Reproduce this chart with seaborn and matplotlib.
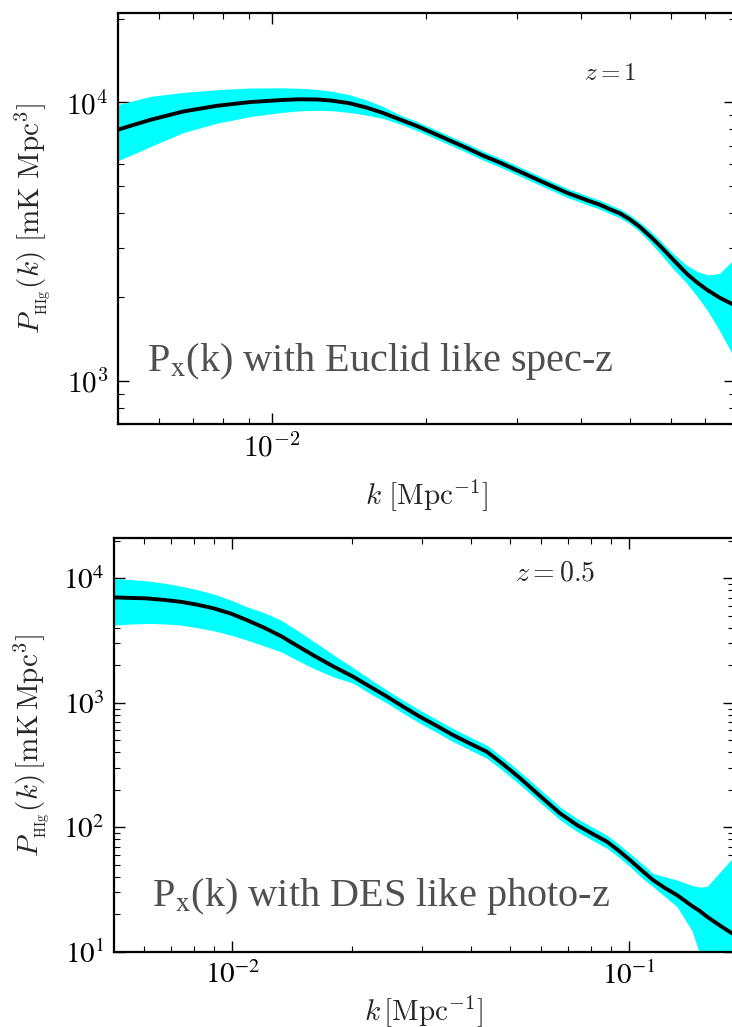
import matplotlib
matplotlib.use("Agg")
import matplotlib.pyplot as plt
import seaborn as sns
import pandas as pd
from matplotlib.ticker import LogLocator, NullFormatter

# --- z = 1 : HI x galaxy cross power, Euclid-like spectroscopic survey ---
k_spec = [0.004987, 0.005786, 0.006706, 0.007822, 0.009071, 0.01052, 0.01131, 0.01226,
          0.01311, 0.01415, 0.01528, 0.01642, 0.01772, 0.01913, 0.02057, 0.02220,
          0.02396, 0.02575, 0.02780, 0.03041, 0.03327, 0.03757, 0.04168, 0.04358,
          0.04558, 0.04768, 0.04988, 0.05217, 0.05457, 0.05717, 0.06058, 0.06452,
          0.06760, 0.07078, 0.07474, 0.07890, 0.08002]
p_spec = [7973, 8661, 9280, 9730, 10033, 10210, 10261, 10244,
          10142, 9934, 9585, 9181, 8699, 8240, 7773, 7307,
          6866, 6453, 6088, 5648, 5239, 4742, 4419, 4295,
          4139, 4001, 3807, 3578, 3320, 3055, 2731, 2424,
          2254, 2118, 1990, 1892, 1868]
p_spec_lo = [6163, 6939, 7795, 8428, 8902, 9219, 9327, 9373,
             9334, 9203, 9006, 8770, 8381, 7938, 7488, 7040,
             6615, 6217, 5865, 5441, 5047, 4568, 4257, 4138,
             3987, 3855, 3668, 3431, 3158, 2871, 2534, 2238,
             2008, 1788, 1514, 1262, 1201]
p_spec_hi = [9811, 10511, 10866, 11111, 11270, 11280, 11240, 11130,
             10956, 10661, 10201, 9689, 9030, 8553, 8068, 7585,
             7127, 6698, 6319, 5863, 5438, 4922, 4587, 4458,
             4296, 4153, 3952, 3720, 3475, 3198, 2871, 2598,
             2471, 2401, 2431, 2685, 2777]

# --- z = 0.5 : HI x galaxy cross power, DES-like photometric survey ---
k_phot = [0.005035, 0.005525, 0.006097, 0.006729, 0.007426, 0.008149, 0.008994, 0.009925,
          0.01089, 0.01202, 0.01327, 0.01455, 0.01606, 0.01804, 0.02014, 0.02223,
          0.02453, 0.02692, 0.02971, 0.03279, 0.03597, 0.03970, 0.04381, 0.04806,
          0.05305, 0.06062, 0.06690, 0.07385, 0.08054, 0.08787, 0.09365,
          0.1004, 0.1076, 0.1147, 0.1230, 0.1319, 0.1439, 0.1506, 0.1570,
          0.1693, 0.1815, 0.1835]
p_phot = [7035, 6970, 6906, 6718, 6485, 6157, 5741, 5214,
          4624, 4024, 3439, 2884, 2397, 1949, 1626, 1351,
          1123, 933, 773, 651, 551, 471, 404, 322,
          248.6, 170.1, 129.4, 104.2, 89.1, 76.5, 65.6,
          54.5, 44.9, 37.7, 32.5, 28.5, 23.3, 21.2, 19.1,
          16.2, 14.05, 13.8]
p_phot_lo = [4217, 4293, 4348, 4309, 4217, 4024, 3793, 3503,
             3194, 2873, 2573, 2206, 1885, 1611, 1441, 1187,
             996, 827, 685, 577, 488, 418, 358, 285,
             220, 151, 114.7, 92.4, 79.0, 67.8, 58.2,
             48.3, 39.2, 33.3, 27.7, 23.0, 14.7, 9.5, 6.0,
             3.0, 1.5, 1.3]
p_phot_hi = [10000, 9779, 9567, 9168, 8670, 8128, 7479, 6693,
             5913, 5312, 4624, 3842, 3107, 2420, 1920, 1552,
             1267, 1052, 872, 734, 622, 531, 456, 363,
             280, 192, 146, 117.5, 100.5, 86.3, 74.0,
             61.5, 51.0, 42.6, 40.0, 37.7, 34.0, 33.1, 33.4,
             43.7, 56.0, 58.5]

sns.set_style("ticks")
plt.rcParams["mathtext.fontset"] = "cm"
plt.rcParams["font.family"] = ["DejaVu Serif"]

fig = plt.figure(figsize=(7.32, 10.27), dpi=100)
ax1 = fig.add_axes([118 / 732, 1 - 424 / 1027, (735 - 118) / 732, (424 - 12.7) / 1027])
ax2 = fig.add_axes([114 / 732, 1 - 951.7 / 1027, (733.5 - 114) / 732, (951.7 - 538.3) / 1027])

BAND = "#00ffff"
TEXT_GREY = "#505050"


def draw_panel(ax, k, p, lo, hi):
    df = pd.DataFrame({"k": k, "P": p})
    ax.fill_between(k, lo, hi, color=BAND, lw=0, zorder=1)
    sns.lineplot(data=df, x="k", y="P", ax=ax, color="black", lw=2.8, zorder=3,
                 estimator=None, sort=False)
    ax.set_xscale("log")
    ax.set_yscale("log")
    for side in ax.spines.values():
        side.set_linewidth(1.6)
        side.set_color("black")
    ax.tick_params(which="both", direction="in", top=True, right=True, colors="black")
    ax.tick_params(which="major", length=8, width=1.0, labelsize=21, pad=7)
    ax.tick_params(which="minor", length=4.5, width=0.8)
    ax.xaxis.set_minor_locator(LogLocator(base=10, subs=range(2, 10), numticks=20))
    ax.yaxis.set_minor_locator(LogLocator(base=10, subs=range(2, 10), numticks=20))
    ax.xaxis.set_minor_formatter(NullFormatter())
    ax.yaxis.set_minor_formatter(NullFormatter())


# top panel
draw_panel(ax1, k_spec, p_spec, p_spec_lo, p_spec_hi)
ax1.set_xticks([1e-2], [r"$10^{-2}$"])
ax1.set_yticks([1e3, 1e4], [r"$10^3$", r"$10^4$"])
ax1.set_xlim(0.005, 0.0801)
ax1.set_ylim(700, 2.1e4)
ax1.set_xlabel(r"$k\ [\mathrm{Mpc}^{-1}]$", fontsize=21)
ax1.set_ylabel(r"$P_{_{\mathrm{HIg}}}(k)\ [\mathrm{mK\ Mpc}^3]$", fontsize=21)
ax1.xaxis.set_label_coords(0.5, -0.128, transform=ax1.transAxes)
ax1.xaxis.label.set_va("top")
ax1.yaxis.set_label_coords(-0.105, 0.5, transform=ax1.transAxes)
fig.text(610 / 732, 1 - 73 / 1027, r"$z=1$", fontsize=18, ha="center", va="center")
fig.text(147 / 732, 1 - 371 / 1027, r"P$_{\mathrm{x}}$(k) with Euclid like spec-z",
         fontsize=29, color=TEXT_GREY, family="Liberation Serif",
         math_fontfamily="stix", ha="left", va="baseline")

# bottom panel
draw_panel(ax2, k_phot, p_phot, p_phot_lo, p_phot_hi)
ax2.set_xticks([1e-2, 1e-1], [r"$10^{-2}$", r"$10^{-1}$"], math_fontfamily="stix")
ax2.set_yticks([1e1, 1e2, 1e3, 1e4], [r"$10^1$", r"$10^2$", r"$10^3$", r"$10^4$"],
               math_fontfamily="stix")
ax2.set_xlim(0.00504, 0.183)
ax2.set_ylim(10, 2.1e4)
ax2.set_xlabel(r"$k\,[\mathrm{Mpc}^{-1}]$", fontsize=21)
ax2.set_ylabel(r"$P_{_{\mathrm{HIg}}}(k)\,[\mathrm{mK\,Mpc}^3]$", fontsize=21)
ax2.xaxis.set_label_coords(0.5, -0.1, transform=ax2.transAxes)
ax2.xaxis.label.set_va("top")
ax2.yaxis.set_label_coords(-0.1, 0.5, transform=ax2.transAxes)
fig.text(555 / 732, 1 - 573 / 1027, r"$z=0.5$", fontsize=20, ha="center", va="center")
fig.text(152 / 732, 1 - 906 / 1027, r"P$_{\mathrm{x}}$(k) with DES like photo-z",
         fontsize=29, color=TEXT_GREY, family="Liberation Serif",
         math_fontfamily="stix", ha="left", va="baseline")

fig.savefig("out.png", dpi=100)
